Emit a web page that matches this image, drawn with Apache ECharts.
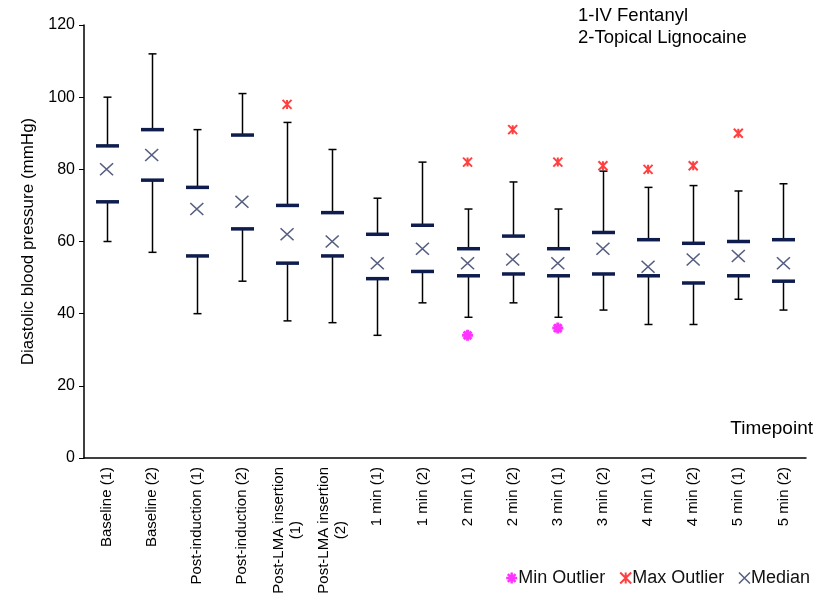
<!DOCTYPE html>
<html>
<head>
<meta charset="utf-8">
<script src="https://cdn.jsdelivr.net/npm/echarts@6/dist/echarts.min.js"></script>
<style>
  html, body { margin: 0; padding: 0; background: #fff; }
  #chart { width: 829px; height: 609px; }
</style>
</head>
<body>
<div id="chart"></div>
<script>
const categories = ['Baseline (1)', 'Baseline (2)', 'Post-induction (1)', 'Post-induction (2)',
  'Post-LMA insertion\n(1)', 'Post-LMA insertion\n(2)', '1 min (1)', '1 min (2)', '2 min (1)', '2 min (2)',
  '3 min (1)', '3 min (2)', '4 min (1)', '4 min (2)', '5 min (1)', '5 min (2)'];
const minVals = [60, 57, 40, 49, 38, 37.5, 34, 43, 39, 43, 39, 41, 37, 37, 44, 41];
const q1Vals = [71, 77, 56, 63.5, 54, 56, 49.7, 51.7, 50.5, 51, 50.5, 51, 50.5, 48.5, 50.5, 49];
const medianVals = [80, 84, 69, 71, 62, 60, 54, 58, 54, 55, 54, 58, 53, 55, 56, 54];
const q3Vals = [86.5, 91, 75, 89.5, 70, 68, 62, 64.5, 58, 61.5, 58, 62.5, 60.5, 59.5, 60, 60.5];
const maxVals = [100, 112, 91, 101, 93, 85.5, 72, 82, 69, 76.5, 69, 79.5, 75, 75.5, 74, 76];
const maxOutliers = [null, null, null, null, 98, null, null, null, 82, 91, 82, 81, 80, 81, 90, null];
const minOutliers = [null, null, null, null, null, null, null, null, 34, null, 36, null, null, null, null, null];
const yTicks = [0, 20, 40, 60, 80, 100, 120];

const FONT = 'Liberation Sans, Arial, sans-serif';
const NAVY = '#0e1d4e';
const X_PATH = 'path://M0,0L10,10M10,0L0,10';
const MAX_PATH = 'path://M0,0L10,10M10,0L0,10M5,0L5,10';
const MIN_PATH = 'path://M5,0L5,10M0,5L10,5M1.5,1.5L8.5,8.5M8.5,1.5L1.5,8.5';

const whiskerData = categories.map((c, i) => [i, minVals[i], q1Vals[i], q3Vals[i], maxVals[i]]);

// centre the short second line under the long first one (labels are right-aligned when rotated)
function splitLabel(v) {
  const lines = v.split('\n');
  if (lines.length < 2) return '{t|' + v + '}';
  return '{t|' + lines[0] + '}\n{t|' + lines[1] + '}{s|}';
}

function renderWhisker(params, api) {
  const i = api.value(0);
  const lo = api.coord([i, api.value(1)]);
  const q1 = api.coord([i, api.value(2)]);
  const q3 = api.coord([i, api.value(3)]);
  const hi = api.coord([i, api.value(4)]);
  const cx = Math.round(lo[0]) + 0.5;
  const cap = 4, box = 11.5;
  const thin = { stroke: '#000', lineWidth: 1.5 };
  const thick = { stroke: NAVY, lineWidth: 3.5 };
  return {
    type: 'group',
    children: [
      { type: 'line', shape: { x1: cx, y1: hi[1], x2: cx, y2: q3[1] }, style: thin },
      { type: 'line', shape: { x1: cx, y1: q1[1], x2: cx, y2: lo[1] }, style: thin },
      { type: 'line', shape: { x1: cx - cap, y1: hi[1], x2: cx + cap, y2: hi[1] }, style: thin },
      { type: 'line', shape: { x1: cx - cap, y1: lo[1], x2: cx + cap, y2: lo[1] }, style: thin },
      { type: 'line', shape: { x1: cx - box, y1: q3[1], x2: cx + box, y2: q3[1] }, style: thick },
      { type: 'line', shape: { x1: cx - box, y1: q1[1], x2: cx + box, y2: q1[1] }, style: thick }
    ]
  };
}

const chart = echarts.init(document.getElementById('chart'));
chart.setOption({
  backgroundColor: '#fff',
  animation: false,
  textStyle: { fontFamily: FONT },
  grid: { left: 84, right: 23, top: 25, bottom: 151 },
  legend: {
    bottom: 17, right: 14,
    itemGap: 14, itemWidth: 11, itemHeight: 11,
    textStyle: { fontSize: 18, color: '#111', padding: [0, 0, 0, -4] },
    data: [
      { name: 'Min Outlier', icon: MIN_PATH, itemStyle: { color: 'transparent', borderColor: '#ff00ff', borderWidth: 2.5 } },
      { name: 'Max Outlier', icon: MAX_PATH, itemStyle: { color: 'transparent', borderColor: '#ff1010', borderWidth: 2 } },
      { name: 'Median', icon: X_PATH, itemStyle: { color: 'transparent', borderColor: '#2b3560', borderWidth: 1.5 } }
    ]
  },
  xAxis: {
    type: 'category',
    data: categories,
    axisLine: { lineStyle: { color: '#000', width: 1.5 } },
    axisTick: { inside: false, length: 5, lineStyle: { color: '#000' } },
    axisLabel: {
      rotate: 90, fontSize: 15, color: '#000', margin: 9, lineHeight: 17, interval: 0,
      formatter: splitLabel,
      rich: {
        t: { fontSize: 15, lineHeight: 17, color: '#000', fontFamily: FONT },
        s: { width: 54, height: 1 }
      }
    }
  },
  yAxis: {
    type: 'value', min: yTicks[0], max: yTicks[yTicks.length - 1], interval: 20,
    name: 'Diastolic blood pressure (mmHg)',
    nameLocation: 'middle', nameRotate: 90, nameGap: 47,
    nameTextStyle: { fontSize: 17, color: '#000' },
    axisLine: { show: true, lineStyle: { color: '#000', width: 1.5 } },
    axisTick: { show: true, length: 5, lineStyle: { color: '#000' } },
    axisLabel: { fontSize: 16, color: '#000', margin: 9 },
    splitLine: { show: false }
  },
  graphic: [
    { type: 'text', left: 578, top: 6, style: { text: '1-IV Fentanyl', fontSize: 18.5, fill: '#000', fontFamily: FONT } },
    { type: 'text', left: 578, top: 28, style: { text: '2-Topical Lignocaine', fontSize: 18.5, fill: '#000', fontFamily: FONT } },
    { type: 'text', right: 16, top: 419, style: { text: 'Timepoint', fontSize: 19, fill: '#000', fontFamily: FONT } }
  ],
  series: [
    {
      type: 'custom', name: 'Range', renderItem: renderWhisker,
      encode: { x: 0, y: [1, 2, 3, 4] }, data: whiskerData, z: 2
    },
    {
      type: 'scatter', name: 'Median', data: medianVals, symbol: X_PATH, symbolSize: [13, 12],
      itemStyle: { color: 'transparent', borderColor: '#2b3560', borderWidth: 1.5 }, z: 3
    },
    {
      type: 'scatter', name: 'Max Outlier', data: maxOutliers, symbol: MAX_PATH, symbolSize: [9, 9],
      itemStyle: { color: 'transparent', borderColor: '#ff1010', borderWidth: 2 }, z: 3
    },
    {
      type: 'scatter', name: 'Min Outlier', data: minOutliers, symbol: MIN_PATH, symbolSize: [11, 11],
      itemStyle: { color: 'transparent', borderColor: '#ff00ff', borderWidth: 3 }, z: 3
    }
  ]
});
</script>
</body>
</html>
